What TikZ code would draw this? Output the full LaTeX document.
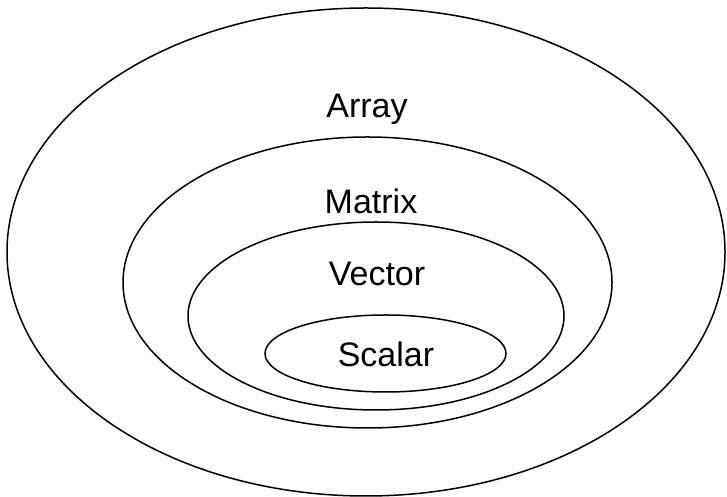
\documentclass[tikz,border=0pt]{standalone}
\usepackage{fontspec}
\setmainfont{Liberation Sans}
\usetikzlibrary{shapes.geometric}
\tikzset{
  set/.style={draw=black,ellipse,line width=1.5pt,inner sep=0pt,outer sep=0pt},
  lab/.style={font=\fontsize{34}{40}\selectfont,anchor=base,inner sep=0pt},
}

\begin{document}
\begin{tikzpicture}[x=1pt,y=1pt]
\useasboundingbox (0,0) rectangle (727,497);
% nested sets, outermost first
\node[set,minimum width=718pt,minimum height=488pt] (array) at (366,245) {};
\node[set,minimum width=489pt,minimum height=291pt] (matrix) at (367.5,214.5) {};
\node[set,minimum width=376pt,minimum height=188pt] (vector) at (376,181) {};
\node[set,minimum width=241pt,minimum height=77pt] (scalar) at (385.5,143.5) {};
% names
\node[lab] (arraylab) at (367,379) {Array};
\node[lab] (matrixlab) at (371,283) {Matrix};
\node[lab] (vectorlab) at (377,211) {Vector};
\node[lab] (scalarlab) at (386,130) {Scalar};
\end{tikzpicture}
\end{document}
